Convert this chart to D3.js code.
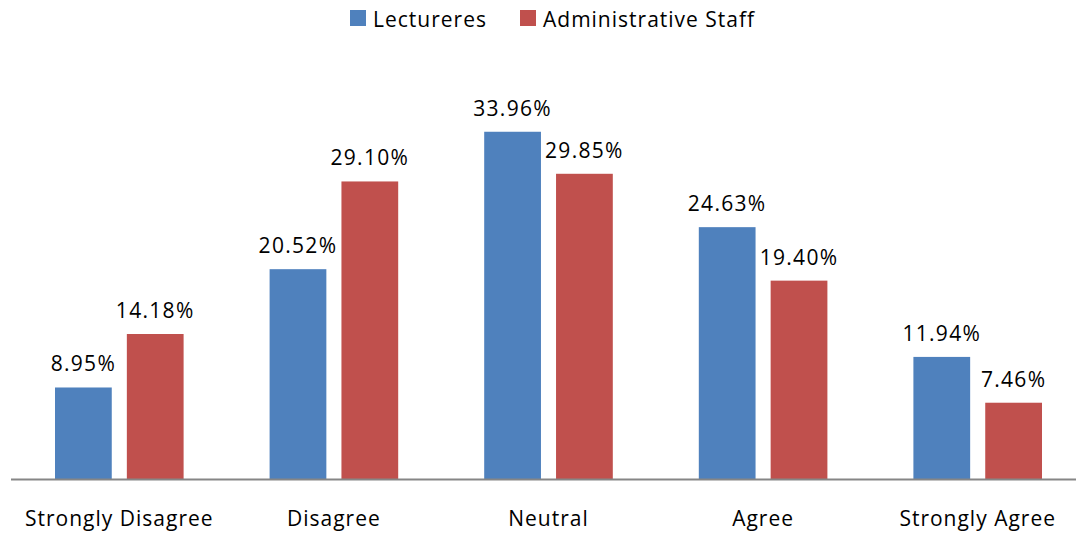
<!DOCTYPE html>
<html>
<head>
<meta charset="utf-8">
<script src="https://cdn.jsdelivr.net/npm/d3@7"></script>
<style>
  body { margin: 0; background: #fff; }
  text { font-family: "Open Sans", "Liberation Sans", sans-serif; fill: #000; }
</style>
</head>
<body>
<div id="chart"></div>
<script>
var categories = ["Strongly Disagree", "Disagree", "Neutral", "Agree", "Strongly Agree"];
var seriesNames = ["Lectureres", "Administrative Staff"];
var lecturers = [8.95, 20.52, 33.96, 24.63, 11.94];
var adminStaff = [14.18, 29.10, 29.85, 19.40, 7.46];
var colors = ["#4F81BD", "#C0504D"];

var width = 1076, height = 534,
    baseline = 479;

var svg = d3.select('#chart')
  .append('svg')
  .attr('width', width)
  .attr('height', height);

var x = d3.scaleBand()
  .domain(categories)
  .range([12, 1085]);

var x1 = d3.scaleBand()
  .domain(seriesNames)
  .range([43, x.bandwidth() - 43])
  .paddingInner(0.21);

var y = d3.scaleLinear()
  .domain([0, 40])
  .range([baseline, baseline - 409]);

var rows = categories.map(function(c, i) {
  return {cat: c, vals: [lecturers[i], adminStaff[i]]};
});

var group = svg.selectAll('g.cat')
  .data(rows)
  .enter()
  .append('g')
  .attr('class', 'cat')
  .attr('transform', function(d) { return 'translate(' + x(d.cat) + ',0)'; });

var bars = group.selectAll('g.bar')
  .data(function(d) { return d.vals.map(function(v, j) { return {name: seriesNames[j], v: v, j: j}; }); })
  .enter()
  .append('g');

bars.append('rect')
  .attr('x', function(d) { return x1(d.name); })
  .attr('width', x1.bandwidth())
  .attr('y', function(d) { return y(d.v); })
  .attr('height', function(d) { return baseline - y(d.v); })
  .style('fill', function(d) { return colors[d.j]; });

bars.append('text')
  .attr('x', function(d) { return x1(d.name) + x1.bandwidth() / 2; })
  .attr('y', function(d) { return y(d.v) - 16; })
  .attr('text-anchor', 'middle')
  .style('font-size', '21px')
  .style('letter-spacing', '1.3px')
  .text(function(d) { return d.v.toFixed(2) + '%'; });

// x axis line
svg.append('line')
  .attr('x1', 11).attr('x2', width)
  .attr('y1', baseline + 0.5).attr('y2', baseline + 0.5)
  .style('stroke', '#868686')
  .style('stroke-width', 2);

svg.selectAll('text.cat')
  .data(categories)
  .enter()
  .append('text')
  .attr('class', 'cat')
  .attr('x', function(d) { return x(d) + x.bandwidth() / 2; })
  .attr('y', 526)
  .attr('text-anchor', 'middle')
  .style('font-size', '21px')
  .style('letter-spacing', '1px')
  .text(function(d) { return d; });

// legend
var legendX = [350, 520];
var legend = svg.selectAll('g.legend')
  .data(seriesNames)
  .enter()
  .append('g')
  .attr('transform', function(d, i) { return 'translate(' + legendX[i] + ',10)'; });

legend.append('rect')
  .attr('width', 16).attr('height', 16)
  .style('fill', function(d, i) { return colors[i]; });

legend.append('text')
  .attr('x', 23)
  .attr('y', 17)
  .style('font-size', '21px')
  .style('letter-spacing', '1px')
  .text(function(d) { return d; });
</script>
</body>
</html>
